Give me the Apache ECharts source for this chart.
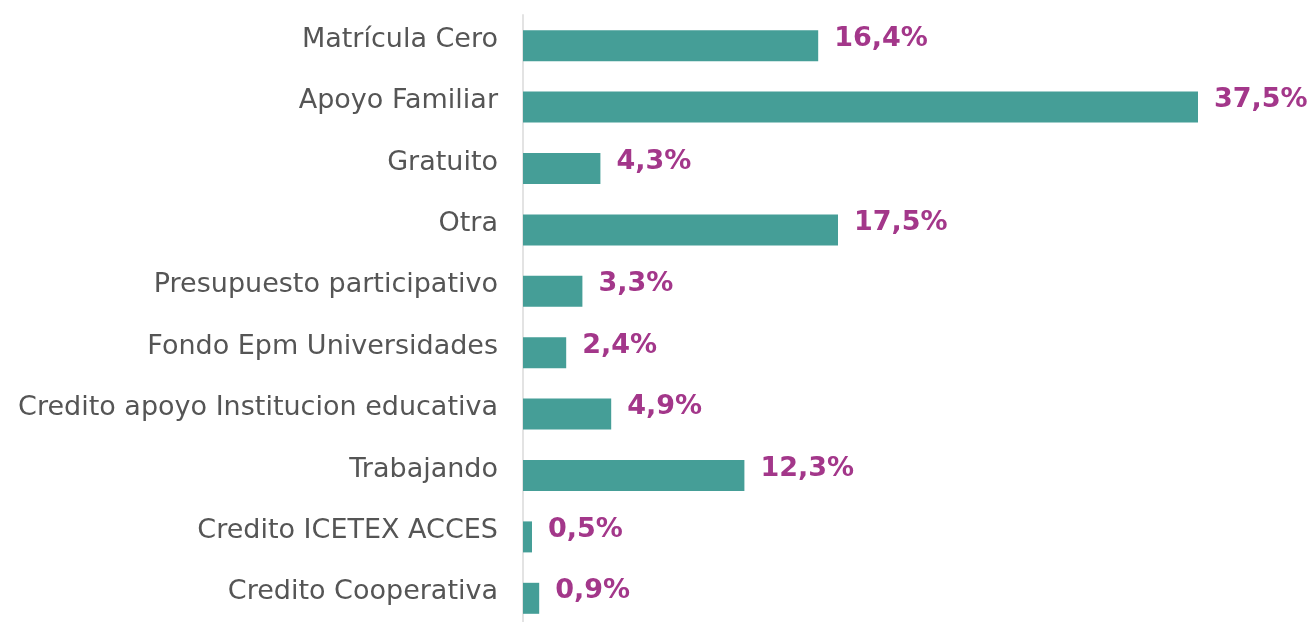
<!DOCTYPE html>
<html>
<head>
<meta charset="utf-8">
<script src="https://cdn.jsdelivr.net/npm/echarts@6/dist/echarts.min.js"></script>
<style>
  html, body { margin: 0; padding: 0; background: #fff; }
  #chart { width: 1311px; height: 622px; }
</style>
</head>
<body>
<div id="chart"></div>
<script>
// categorias de arriba hacia abajo
var categorias = [
  'Matrícula Cero',
  'Apoyo Familiar',
  'Gratuito',
  'Otra',
  'Presupuesto participativo',
  'Fondo Epm Universidades',
  'Credito apoyo Institucion educativa',
  'Trabajando',
  'Credito ICETEX ACCES',
  'Credito Cooperativa'
];
var porcentajes = [16.4, 37.5, 4.3, 17.5, 3.3, 2.4, 4.9, 12.3, 0.5, 0.9];

var chart = echarts.init(document.getElementById('chart'));
var option = {
  animation: false,
  grid: { left: 523, width: 720, top: 15, height: 614, outerBoundsMode: 'none', containLabel: false },
  xAxis: {
    type: 'value',
    min: 0,
    max: 40,
    show: false
  },
  yAxis: {
    type: 'category',
    inverse: true,
    data: categorias,
    axisLine: { show: true, lineStyle: { color: '#e3e3e3', width: 2 } },
    axisTick: { show: false },
    axisLabel: {
      margin: 25,
      color: '#555',
      fontFamily: 'DejaVu Sans',
      fontSize: 27,
      verticalAlign: 'bottom',
      lineHeight: 12
    }
  },
  series: [
    {
      type: 'bar',
      data: porcentajes,
      barWidth: 31,
      itemStyle: { color: '#459e97' },
      label: {
        show: true,
        position: 'right',
        distance: 16,
        offset: [0, -7],
        color: '#a3378a',
        fontFamily: 'DejaVu Sans',
        fontWeight: 'bold',
        fontSize: 27,
        formatter: function (p) {
          return p.value.toFixed(1).replace('.', ',') + '%';
        }
      }
    }
  ]
};
chart.setOption(option);
</script>
</body>
</html>
